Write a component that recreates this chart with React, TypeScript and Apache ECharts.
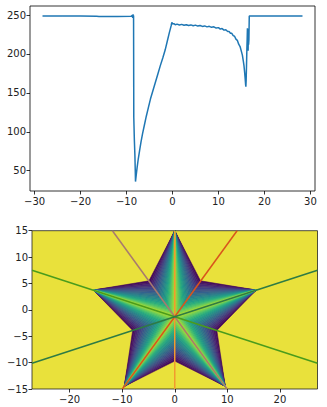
import React, { useEffect, useRef } from 'react';
import * as echarts from 'echarts';

// ---- top panel: profile line ----
const profileX = [
  -28.28, -24, -20, -16.5, -16, -12, -9.0, -8.75, -8.65, -8.58, -8.52, -8.47, -8.42, -8.3, -8.18, -8.1, -8.05,
  -7.9, -7.7, -7.45, -7.15, -6.85, -6.5, -6.1, -5.7, -5.25, -4.8, -4.3, -3.75, -3.2, -2.65, -2.1, -1.6, -1.15, -0.7, -0.3, -0.15,
  0.05, 0.3, 0.6, 1.0, 1.5, 2.0, 2.5, 3.0, 3.5, 4.0, 4.5, 5.0, 5.5, 6.0, 6.5, 7.0, 7.5, 8.0, 8.5, 9.0, 9.5, 10.0,
  10.4, 10.8, 11.2, 11.6, 12.0, 12.3, 12.6, 12.9, 13.2, 13.5, 13.8, 14.1, 14.4, 14.7, 15.0, 15.2, 15.4, 15.55, 15.7, 15.8,
  15.9, 15.96, 16.02, 16.1, 16.18, 16.25, 16.3, 16.35, 16.4, 16.45, 16.5, 16.55, 16.62, 16.7, 28.28,
];
const profileY = [
  248.8, 248.7, 248.6, 248.5, 248.2, 248.2, 248.3, 249.5, 246.5, 250.8, 247.5, 249.5, 118, 90, 70, 50, 36,
  44, 54, 65, 76, 87, 98, 109, 120, 131, 142, 152, 163, 174, 185, 195, 205, 216, 227, 236, 240.5,
  238.5, 239, 237.5, 238.3, 237.2, 238, 236.8, 237.6, 236.5, 237.3, 236.2, 237, 235.8, 236.6, 235.4, 236, 234.8, 235.5, 234.2, 234.8, 233.2, 233.8,
  232, 232.6, 230.6, 231, 228.8, 229, 226.6, 226.5, 223.5, 222.8, 219, 217.5, 212.5, 209.5, 203, 198.5, 191, 185, 176, 169,
  161, 158, 166, 185, 206, 220, 233, 210, 232, 204, 226, 212, 218, 248.6, 248.6,
];
const topXTicks = [-30, -20, -10, 0, 10, 20, 30];
const topYTicks = [50, 100, 150, 200, 250];

// ---- bottom panel: star ----
const botXTicks = [-20, -10, 0, 10, 20];
const botYTicks = [-15, -10, -5, 0, 5, 10, 15];
const starCenterX = 0;
const starCenterY = -1.3;
const tipX = [0, 15.5, 9.6, -9.6, -15.5];
const tipY = [15, 3.75, -14.5, -14.5, 3.75];
const innerX = [4.9, 8.0, 0, -8.0, -4.9];
const innerY = [5.5, -3.9, -9.7, -3.9, 5.5];
// half arms: [tip index, inner vertex index]
const halfArms = [[0, 0], [0, 4], [1, 0], [1, 1], [2, 1], [2, 2], [3, 2], [3, 3], [4, 3], [4, 4]];

const rayStartX = [0, -9.96, -11.85, -27.14, -27.14];
const rayStartY = [-15, -15, 15, 7.52, -10.12];
const rayEndX = [0, 11.85, 9.96, 27.14, 27.14];
const rayEndY = [15, 15, -15, -10.12, 7.52];
const rayColors = ['#f29a2e', '#d9541c', '#a87a6e', '#4a9c1c', '#2e7b44'];

const viridis = ['#440154', '#482475', '#414487', '#355f8d', '#2a788e', '#21918c', '#22a884', '#44bf70', '#7ad151', '#bddf26', '#fde725'];
const outsideColor = '#e9e13b';

function hexToRgb(h: string) {
  return [parseInt(h.slice(1, 3), 16), parseInt(h.slice(3, 5), 16), parseInt(h.slice(5, 7), 16)];
}
function cmap(t: number) {
  const f = Math.max(0, Math.min(1, t)) * (viridis.length - 1);
  const i = Math.min(viridis.length - 2, Math.floor(f));
  const u = f - i;
  const a = hexToRgb(viridis[i]);
  const b = hexToRgb(viridis[i + 1]);
  const c = a.map((v, k) => Math.round(v + (b[k] - v) * u));
  return `rgb(${c[0]},${c[1]},${c[2]})`;
}

const fmt = (v: number) => (v < 0 ? '\u2212' + Math.abs(v) : String(v));

function axis(gridIndex: number, min: number, max: number, ticks: number[], margin: number) {
  return {
    type: 'value',
    gridIndex,
    min,
    max,
    axisLine: { show: false, onZero: false },
    splitLine: { show: false },
    axisTick: { show: true, length: 3.5, customValues: ticks, lineStyle: { color: '#000', width: 0.8 } },
    axisLabel: {
      customValues: ticks,
      formatter: fmt,
      fontSize: 10,
      color: '#222',
      margin,
      fontFamily: 'DejaVu Sans',
    },
  };
}

export default function App() {
  const ref = useRef<HTMLDivElement>(null);
  useEffect(() => {
    if (!ref.current) return;
    const chart = echarts.init(ref.current, undefined, { renderer: 'svg' });
    const N = 22;
    const option: any = {
      animation: false,
      backgroundColor: '#fff',
      grid: [
        { left: 30, top: 6, width: 285, height: 185, show: true, borderColor: '#000', borderWidth: 0.8, backgroundColor: 'transparent' },
        { left: 32, top: 230.7, width: 285.5, height: 158.3, show: true, borderColor: '#222', borderWidth: 0.8, backgroundColor: outsideColor },
      ],
      xAxis: [axis(0, -31, 31, topXTicks, 5), axis(1, -27.14, 27.14, botXTicks, 5)],
      yAxis: [axis(0, 23.9, 261.6, topYTicks, 4), axis(1, -15, 15, botYTicks, 4)],
      series: [
        {
          type: 'line',
          xAxisIndex: 0,
          yAxisIndex: 0,
          data: profileX.map((x, i) => [x, profileY[i]]),
          symbol: 'none',
          lineStyle: { color: '#1f77b4', width: 1.5 },
        },
        {
          type: 'custom',
          xAxisIndex: 1,
          yAxisIndex: 1,
          silent: true,
          clip: true,
          data: halfArms,
          renderItem: (params: any, api: any) => {
            const t = api.value(0);
            const k = api.value(1);
            const T = api.coord([tipX[t], tipY[t]]);
            const I = api.coord([innerX[k], innerY[k]]);
            const C = api.coord([starCenterX, starCenterY]);
            const children: any[] = [];
            for (let j = 0; j < N; j++) {
              const s0 = j / N;
              const s1 = (j + 1) / N;
              const P0 = [I[0] + (C[0] - I[0]) * s0, I[1] + (C[1] - I[1]) * s0];
              const P1 = [I[0] + (C[0] - I[0]) * s1, I[1] + (C[1] - I[1]) * s1];
              const col = cmap(((j + 0.5) / N) * 0.88);
              children.push({
                type: 'polygon',
                shape: { points: [T, P0, P1] },
                style: { fill: col, stroke: col, lineWidth: 0.6 },
              });
            }
            return { type: 'group', children };
          },
        },
        ...rayStartX.map((x, i) => ({
          type: 'line',
          xAxisIndex: 1,
          yAxisIndex: 1,
          data: [[x, rayStartY[i]], [rayEndX[i], rayEndY[i]]],
          symbol: 'none',
          lineStyle: { color: rayColors[i], width: 1.5 },
        })),
      ],
    };
    chart.setOption(option);
    return () => chart.dispose();
  }, []);
  return <div ref={ref} style={{ position: 'fixed', left: 0, top: 0, width: 327, height: 407 }} />;
}
